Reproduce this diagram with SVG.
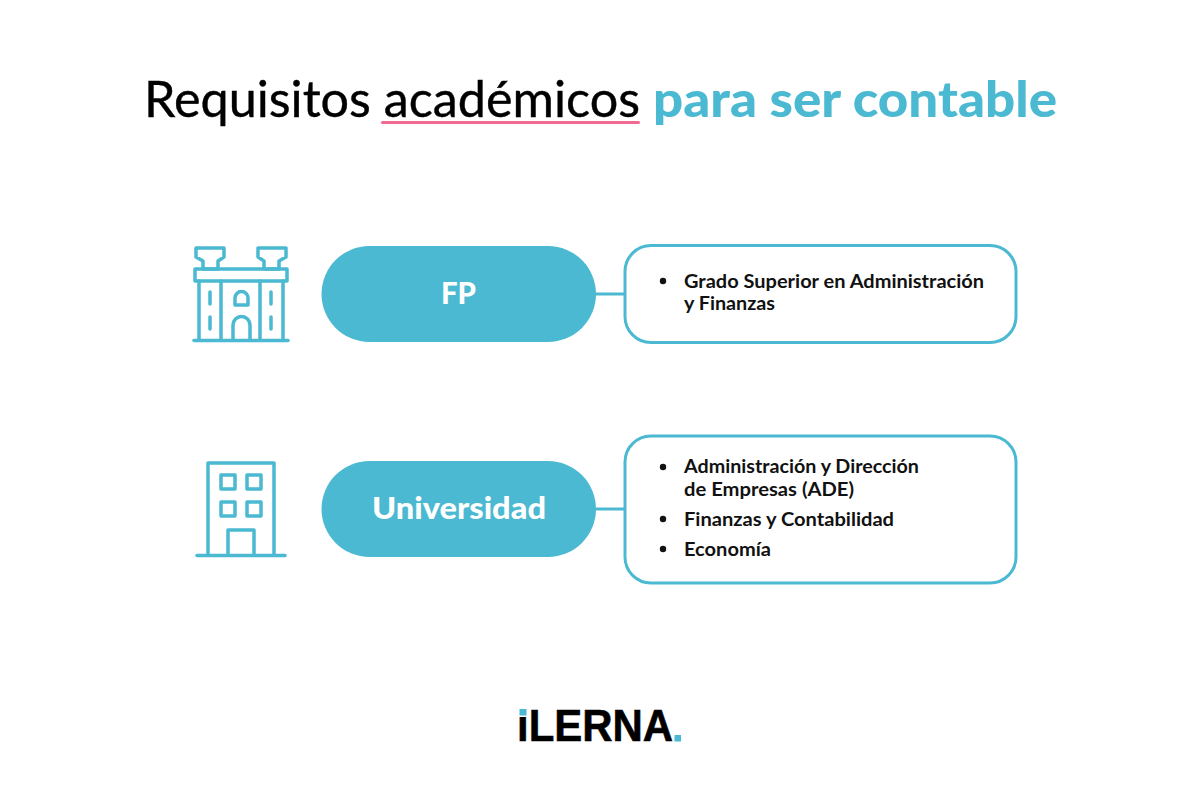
<svg xmlns="http://www.w3.org/2000/svg" width="1200" height="800" viewBox="0 0 1200 800">
<style>
.ic{fill:none;stroke:#4ab9d1;stroke-width:3.500;stroke-linecap:round;stroke-linejoin:round}
.t{font-family:"Lato","Liberation Sans",sans-serif}
.pill{fill:#4ab9d1}
.box{fill:#fff;stroke:#4ab9d1;stroke-width:3}
.pt{font-family:"Lato","Liberation Sans",sans-serif;font-weight:900;fill:#fff;font-size:31px}
.li{font-family:"Lato","Liberation Sans",sans-serif;font-weight:700;fill:#111;font-size:18px}
.con{stroke:#4ab9d1;stroke-width:3;fill:none}
</style>
<rect width="1200" height="800" fill="#fff"/>
<g id="title">
<text class="t" x="144" y="117" font-size="50" fill="#000" stroke="#000" stroke-width=".4" textLength="496" lengthAdjust="spacingAndGlyphs">Requisitos académicos</text>
<text class="t" x="653" y="117" font-size="50" font-weight="900" fill="#4ab9d1" textLength="404" lengthAdjust="spacingAndGlyphs">para ser contable</text>
<line x1="382.500" y1="122.500" x2="638.500" y2="122.500" stroke="#f4698f" stroke-width="3" stroke-linecap="round"/>
</g>
<g id="connectors">
<line class="con" x1="594" y1="294" x2="626" y2="294"/>
<line class="con" x1="594" y1="509" x2="626" y2="509"/>
</g>
<g id="icon-fp" class="ic">
<path d="M196 248H224V257L218 261V269H203V261L196 257Z"/>
<path d="M258 248H286V257L279 261V269H264V261L258 257Z"/>
<rect x="195" y="269" width="92" height="12"/>
<path d="M199 281V340M221 281V340M260 281V340M283 281V340"/>
<path d="M194 340.500H288"/>
<path d="M210 292V304M210 317V329M271 292V304M271 317V329"/>
<path d="M235 305V298A6.500 6.500 0 0 1 248 298V305Z"/>
<path d="M233 340V325A8.500 8.500 0 0 1 250 325V340"/>
</g>
<g id="node-fp">
<rect class="pill" x="321.500" y="246" width="274.500" height="96" rx="48"/>
<text class="pt" x="441" y="303.500" textLength="35" lengthAdjust="spacingAndGlyphs">FP</text>
</g>
<g id="list-fp">
<rect class="box" x="625" y="245.500" width="391" height="97" rx="26"/>
<circle cx="663" cy="281" r="3.200" fill="#111"/>
<text class="li" x="684" y="288" textLength="300" lengthAdjust="spacingAndGlyphs">Grado Superior en Administración</text>
<text class="li" x="684" y="310" textLength="91" lengthAdjust="spacingAndGlyphs">y Finanzas</text>
</g>
<g id="icon-uni" class="ic">
<path d="M208 555V463H274V555"/>
<path d="M197 555.500H285"/>
<rect x="221" y="475" width="14" height="14"/>
<rect x="247" y="475" width="14" height="14"/>
<rect x="221" y="502" width="14" height="14"/>
<rect x="247" y="502" width="14" height="14"/>
<path d="M228 555V530H254V555"/>
</g>
<g id="node-uni">
<rect class="pill" x="321.500" y="461" width="274.500" height="96" rx="48"/>
<text class="pt" x="372" y="518.500" textLength="174" lengthAdjust="spacingAndGlyphs">Universidad</text>
</g>
<g id="list-uni">
<rect class="box" x="625" y="436" width="391" height="147" rx="26"/>
<circle cx="663" cy="467" r="3.200" fill="#111"/>
<text class="li" x="684" y="473" textLength="235" lengthAdjust="spacingAndGlyphs">Administración y Dirección</text>
<text class="li" x="684" y="496" textLength="170" lengthAdjust="spacingAndGlyphs">de Empresas (ADE)</text>
<circle cx="663" cy="519" r="3.200" fill="#111"/>
<text class="li" x="684" y="526" textLength="210" lengthAdjust="spacingAndGlyphs">Finanzas y Contabilidad</text>
<circle cx="663" cy="549" r="3.200" fill="#111"/>
<text class="li" x="684" y="556" textLength="87" lengthAdjust="spacingAndGlyphs">Economía</text>
</g>
<g id="logo">
<text x="517" y="741" font-family="Liberation Sans, sans-serif" font-weight="700" font-size="45" fill="#000" stroke="#000" stroke-width=".6" textLength="156" lengthAdjust="spacingAndGlyphs">iLERNA</text>
<rect x="517" y="706" width="12" height="11" fill="#fff"/>
<rect x="519.500" y="709" width="7" height="6.500" fill="#4ab9d1"/>
<rect x="674.500" y="735" width="6.500" height="6.500" fill="#4ab9d1"/>
</g>
</svg>
